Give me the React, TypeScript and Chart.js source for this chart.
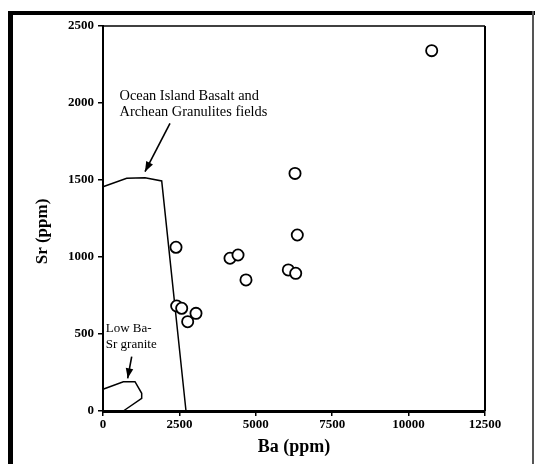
import React, { useEffect, useRef } from "react";
import { Chart, registerables } from "chart.js";

Chart.register(...registerables);

// ---- data ----
const baValues = [10756, 6283, 6358, 6064, 6306, 2389, 4156, 4418, 4679, 2411, 2575, 2771, 3043];
const srValues = [2340, 1543, 1143, 916, 894, 1063, 992, 1013, 851, 682, 667, 580, 634];

const oibFieldBa = [0, 776, 1374, 1921, 2716];
const oibFieldSr = [1456, 1511, 1515, 1494, 0];

const lowFieldBa = [0, 665, 1047, 1266, 1266, 665];
const lowFieldSr = [141, 190, 190, 115, 82, 0];

const oibArrowBa = [2192, 1374];
const oibArrowSr = [1868, 1554];
const lowArrowBa = [939, 808];
const lowArrowSr = [353, 212];

const xTicks = [0, 2500, 5000, 7500, 10000, 12500];
const yTicks = [0, 500, 1000, 1500, 2000, 2500];

const oibLabel = ["Ocean Island Basalt and", "Archean Granulites fields"];
const lowLabel = ["Low Ba-", "Sr granite"];
const xTitle = "Ba (ppm)";
const yTitle = "Sr (ppm)";

const SERIF = "'Liberation Serif', 'Times New Roman', serif";

const pts = (xs: number[], ys: number[]) => xs.map((x, i) => ({ x, y: ys[i] }));

const decorPlugin = {
  id: "decor",
  afterDatasetsDraw(chart: any) {
    const { ctx, chartArea, scales } = chart;
    const xs = scales.x;
    const ys = scales.y;
    ctx.save();
    // arrowheads at the last point of the arrow datasets
    chart.data.datasets.forEach((ds: any, i: number) => {
      if (!ds.isArrow) return;
      const meta = chart.getDatasetMeta(i);
      const p0 = meta.data[meta.data.length - 2];
      const p1 = meta.data[meta.data.length - 1];
      const ang = Math.atan2(p1.y - p0.y, p1.x - p0.x);
      const len = 10;
      const hw = 3.8;
      ctx.beginPath();
      ctx.moveTo(p1.x, p1.y);
      ctx.lineTo(
        p1.x - len * Math.cos(ang) + hw * Math.sin(ang),
        p1.y - len * Math.sin(ang) - hw * Math.cos(ang)
      );
      ctx.lineTo(
        p1.x - len * Math.cos(ang) - hw * Math.sin(ang),
        p1.y - len * Math.sin(ang) + hw * Math.cos(ang)
      );
      ctx.closePath();
      ctx.fillStyle = "#000";
      ctx.fill();
    });

    // annotation texts
    ctx.fillStyle = "#000";
    ctx.textBaseline = "middle";
    ctx.textAlign = "left";
    ctx.font = `14.4px ${SERIF}`;
    const ox = xs.getPixelForValue(540);
    ctx.fillText(oibLabel[0], ox, ys.getPixelForValue(2041));
    ctx.fillText(oibLabel[1], ox, ys.getPixelForValue(1940));
    ctx.font = `13px ${SERIF}`;
    const lx = xs.getPixelForValue(90);
    ctx.fillText(lowLabel[0], lx, ys.getPixelForValue(532));
    ctx.fillText(lowLabel[1], lx, ys.getPixelForValue(429));

    // top and right frame of plot
    ctx.strokeStyle = "#000";
    ctx.lineWidth = 1.5;
    ctx.beginPath();
    ctx.moveTo(chartArea.left, chartArea.top);
    ctx.lineTo(chartArea.right, chartArea.top);
    ctx.stroke();
    ctx.lineWidth = 2;
    ctx.beginPath();
    ctx.moveTo(chartArea.right, chartArea.top);
    ctx.lineTo(chartArea.right, chartArea.bottom);
    ctx.stroke();

    // y title
    ctx.save();
    ctx.translate(chartArea.left - 60, (chartArea.top + chartArea.bottom) / 2 + 13);
    ctx.rotate(-Math.PI / 2);
    ctx.textAlign = "center";
    ctx.font = `bold 17px ${SERIF}`;
    ctx.fillText(yTitle, 0, 0);
    ctx.restore();
    ctx.restore();
  },
};

export default function App() {
  const ref = useRef<HTMLCanvasElement | null>(null);

  useEffect(() => {
    if (!ref.current) return;
    const lineDs = (data: any[], extra: any = {}) => ({
      type: "scatter",
      data,
      showLine: true,
      borderColor: "#000",
      borderWidth: 1.5,
      pointRadius: 0,
      tension: 0,
      fill: false,
      clip: false,
      ...extra,
    });
    const chart = new Chart(ref.current, {
      type: "scatter",
      data: {
        datasets: [
          {
            label: "samples",
            data: pts(baValues, srValues),
            pointRadius: 5.6,
            pointBorderWidth: 1.8,
            pointBorderColor: "#000",
            pointBackgroundColor: "#fff",
            borderColor: "#000",
            backgroundColor: "#fff",
            clip: false,
          } as any,
          lineDs(pts(oibFieldBa, oibFieldSr)),
          lineDs(pts(lowFieldBa, lowFieldSr)),
          lineDs(pts(oibArrowBa, oibArrowSr), { isArrow: true, borderWidth: 1.6 }),
          lineDs(pts(lowArrowBa, lowArrowSr), { isArrow: true, borderWidth: 1.6 }),
        ],
      },
      options: {
        animation: false,
        responsive: false,
        events: [],
        layout: { padding: { top: 26, right: 50, left: 0, bottom: 6 } },
        plugins: { legend: { display: false }, tooltip: { enabled: false } },
        scales: {
          x: {
            type: "linear",
            min: 0,
            max: 12500,
            afterBuildTicks: (s: any) => {
              s.ticks = xTicks.map((v) => ({ value: v }));
            },
            afterFit: (s: any) => {
              s.height = 47;
              s.paddingLeft = 0;
              s.paddingRight = 0;
            },
            grid: {
              display: true,
              drawOnChartArea: false,
              drawTicks: true,
              tickLength: 5,
              color: "#000",
              lineWidth: 1.5,
            },
            border: { display: true, color: "#000", width: 3 },
            ticks: {
              color: "#000",
              padding: 1,
              maxRotation: 0,
              autoSkip: false,
              font: { family: SERIF, size: 13, weight: "bold" },
              callback: (v: any) => String(v),
            },
            title: {
              display: true,
              text: xTitle,
              color: "#000",
              padding: 0,
              font: { family: SERIF, size: 18, weight: "bold" },
            },
          },
          y: {
            type: "linear",
            min: 0,
            max: 2500,
            afterBuildTicks: (s: any) => {
              s.ticks = yTicks.map((v) => ({ value: v }));
            },
            afterFit: (s: any) => {
              s.width = 103;
              s.paddingTop = 0;
              s.paddingBottom = 0;
            },
            grid: {
              display: true,
              drawOnChartArea: false,
              drawTicks: true,
              tickLength: 5,
              color: "#000",
              lineWidth: 1.5,
            },
            border: { display: true, color: "#000", width: 2 },
            ticks: {
              color: "#000",
              padding: 4,
              autoSkip: false,
              font: { family: SERIF, size: 13, weight: "bold" },
              callback: (v: any) => String(v),
            },
          },
        },
      } as any,
      plugins: [decorPlugin],
    } as any);
    return () => chart.destroy();
  }, []);

  return (
    <div
      style={{
        position: "fixed",
        left: 0,
        top: 0,
        width: 535,
        height: 464,
        background: "#fff",
        overflow: "hidden",
      }}
    >
      <canvas ref={ref} width={535} height={464} style={{ display: "block", width: 535, height: 464 }} />
      <div style={{ position: "absolute", left: 8, top: 11, width: 527, height: 4, background: "#000" }} />
      <div style={{ position: "absolute", left: 8, top: 11, width: 5, height: 453, background: "#000" }} />
      <div style={{ position: "absolute", left: 532, top: 11, width: 1.5, height: 453, background: "#555" }} />
    </div>
  );
}
